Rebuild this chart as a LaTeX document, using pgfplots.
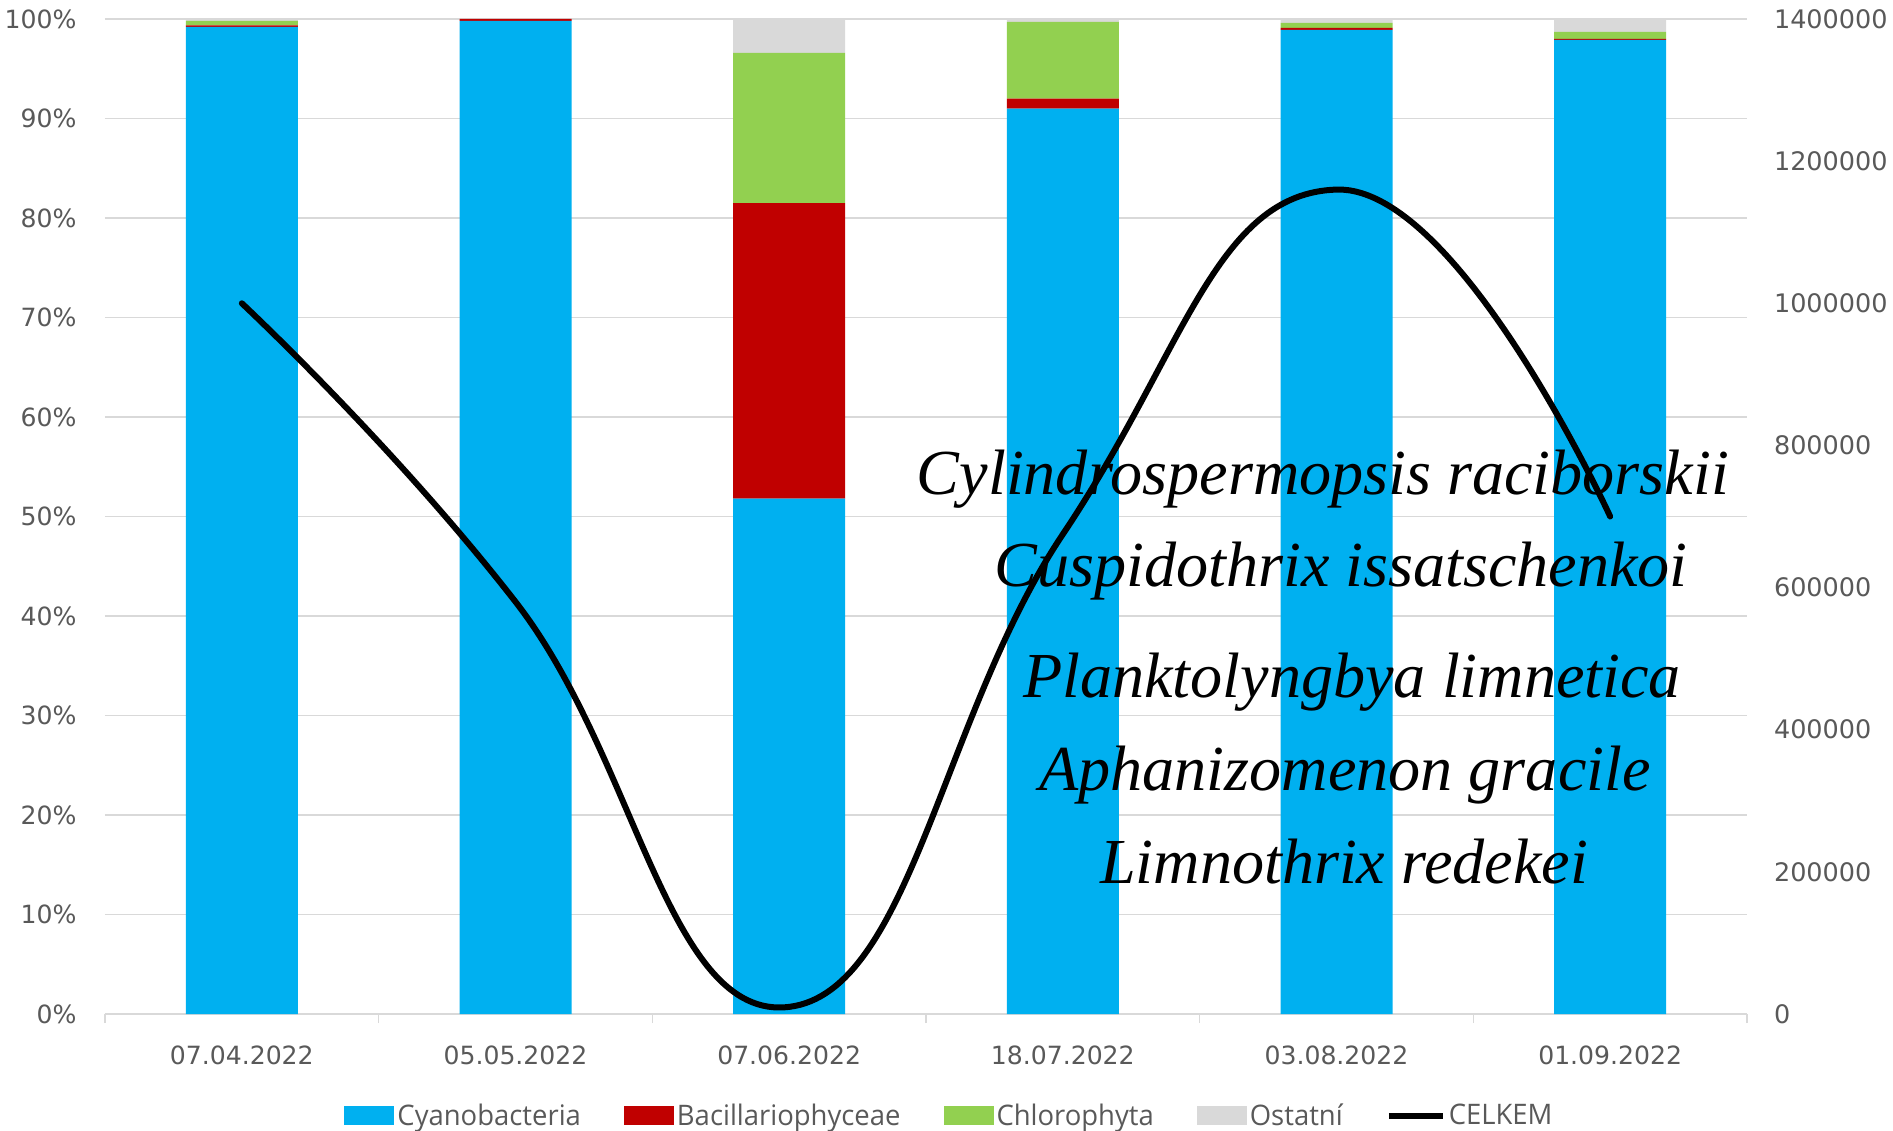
\documentclass[border=0pt]{standalone}
\usepackage{fontspec}
\setmainfont{DejaVu Sans}
\newfontfamily\legfont{Open Sans}[FakeStretch=0.97]
\newfontfamily\annfont{Liberation Serif}
\usepackage{pgfplots}
\pgfplotsset{compat=1.18}
\definecolor{cyanb}{HTML}{00B0F0}
\definecolor{redb}{HTML}{C00000}
\definecolor{greenb}{HTML}{92D050}
\definecolor{grayb}{HTML}{D9D9D9}
\definecolor{txt}{HTML}{595959}
\pgfplotsset{
  barlegend/.style={legend image code/.code={\fill[##1,draw=none] (0bp,-4.75bp) rectangle (25bp,4.75bp);}},
  linelegend/.style={legend image code/.code={\draw[##1] (0bp,0bp) -- (27bp,0bp);}},
}
\begin{document}
\begin{tikzpicture}
\path[use as bounding box] (-52.5bp,-58.5bp) rectangle (894bp,507bp);
\begin{axis}[
  scale only axis, width=821bp, height=497.5bp,
  at={(0,0)}, anchor=south west,
  ybar stacked, bar width=56bp,
  xmin=-0.5, xmax=5.5, ymin=0, ymax=100,
  xtick={0,1,2,3,4,5},
  xticklabels={07.04.2022,05.05.2022,07.06.2022,18.07.2022,03.08.2022,01.09.2022},
  minor xtick={-0.5,0.5,1.5,2.5,3.5,4.5,5.5},
  ytick={0,10,...,100},
  yticklabel={\pgfmathprintnumber{\tick}\%},
  /pgf/number format/assume math mode=true,
  ymajorgrids, major grid style={grayb, line width=0.75bp},
  axis x line*=bottom, axis y line*=left,
  x axis line style={grayb, line width=0.75bp, -},
  y axis line style={draw=none},
  major x tick style={draw=none},
  minor x tick style={grayb, line width=0.75bp},
  minor tick length=4.5bp,
  tick align=outside,
  major y tick style={draw=none},
  ticklabel style={font=\fontsize{12.6}{14}\selectfont, text=txt},
  xticklabel style={yshift=-8bp},
  yticklabel style={xshift=-6.5bp},
  legend columns=5,
  legend style={at={(0.5146,-0.1025)}, anchor=center, draw=none, fill=none,
    font=\legfont\fontsize{14.2}{16}\selectfont, text=txt,
    /tikz/every even column/.append style={column sep=20bp},
    nodes={inner sep=1.5bp}},
  clip=false,
]
\addplot[fill=cyanb, draw=none, barlegend] coordinates {(0,99.2) (1,99.8) (2,51.8) (3,91.0) (4,98.9) (5,97.9)};
\addlegendentry{Cyanobacteria}
\addplot[fill=redb, draw=none, barlegend] coordinates {(0,0.15) (1,0.2) (2,29.7) (3,1.0) (4,0.2) (5,0.1)};
\addlegendentry{Bacillariophyceae}
\addplot[fill=greenb, draw=none, barlegend] coordinates {(0,0.45) (1,0.0) (2,15.1) (3,7.7) (4,0.5) (5,0.7)};
\addlegendentry{Chlorophyta}
\addplot[fill=grayb, draw=none, barlegend] coordinates {(0,0.2) (1,0.0) (2,3.4) (3,0.3) (4,0.4) (5,1.3)};
\addlegendentry{Ostatní}
\addlegendimage{black, line width=3bp, linelegend}
\addlegendentry{CELKEM}
\end{axis}
\begin{axis}[
  scale only axis, width=821bp, height=497.5bp,
  at={(0,0)}, anchor=south west,
  xmin=-0.5, xmax=5.5, ymin=0, ymax=1400000,
  axis x line=none, axis y line*=right,
  y axis line style={draw=none},
  ytick={0,200000,...,1400000},
  scaled y ticks=false,
  yticklabel style={/pgf/number format/fixed, /pgf/number format/1000 sep={}, xshift=10bp},
  /pgf/number format/assume math mode=true,
  major y tick style={draw=none},
  ticklabel style={font=\fontsize{12.8}{14}\selectfont, text=txt},
  clip=false,
]
\addplot[black, line width=3bp, smooth, tension=0.8, line cap=round, line join=round] coordinates {(0,1000000) (1,580000) (2,10000) (3,675000) (4,1160000) (5,700000)};
\end{axis}
\begin{scope}[every node/.style={anchor=base, inner sep=0pt, font=\annfont\itshape\fontsize{32.2}{36}\selectfont}]
\node at (609bp,259.5bp) {Cylindrospermopsis raciborskii};
\node at (618bp,213.5bp) {Cuspidothrix issatschenkoi};
\node at (623.5bp,158bp) {Planktolyngbya limnetica};
\node at (620bp,111.5bp) {Aphanizomenon gracile};
\node at (619.5bp,65bp) {Limnothrix redekei};
\end{scope}
\end{tikzpicture}
\end{document}
